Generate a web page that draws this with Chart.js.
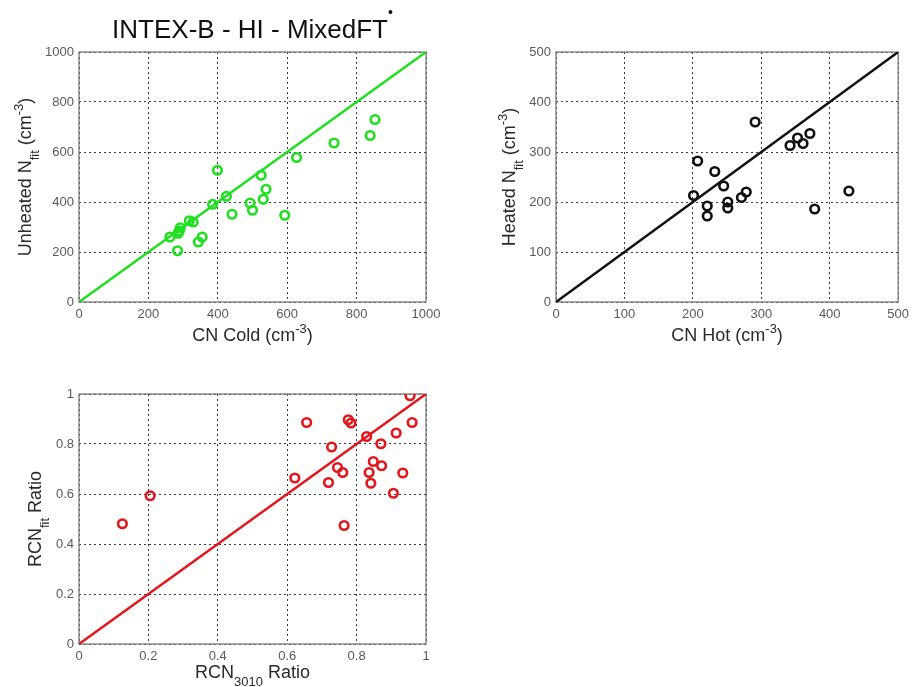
<!DOCTYPE html>
<html>
<head>
<meta charset="utf-8">
<script src="https://cdn.jsdelivr.net/npm/chart.js@4"></script>
<style>
  body { margin: 0; background: #fff; }
  .panel { position: absolute; }
</style>
</head>
<body>
<div class="panel" style="left:0;top:0;width:460px;height:350px"><canvas id="cold"></canvas></div>
<div class="panel" style="left:460px;top:0;width:454px;height:350px"><canvas id="hot"></canvas></div>
<div class="panel" style="left:0;top:370px;width:460px;height:317px"><canvas id="ratio"></canvas></div>
<script>
// unheated vs cold CN
const coldCN      = [262, 284, 286, 289, 292, 318, 329, 344, 355, 385, 399, 425, 441, 493, 500, 525, 531, 539, 593, 627, 735, 839, 853];
const unheatedFit = [260, 205, 275, 284, 297, 325, 320, 240, 260, 391, 527, 423, 351, 396, 367, 507, 411, 451, 347, 578, 636, 666, 730];

// heated vs hot CN
const hotCN     = [207, 201, 221, 221, 232, 245, 251, 251, 271, 278, 291, 342, 353, 361, 371, 378, 428];
const heatedFit = [282, 213, 192, 172, 261, 232, 200, 188, 209, 220, 360, 313, 328, 317, 337, 186, 222];

// ratios
const rcn3010 = [0.125, 0.205, 0.622, 0.656, 0.719, 0.728, 0.745, 0.760, 0.764, 0.776, 0.784, 0.829, 0.836, 0.841, 0.848, 0.870, 0.872, 0.906, 0.914, 0.933, 0.954, 0.960];
const rcnFit  = [0.481, 0.593, 0.664, 0.886, 0.646, 0.788, 0.706, 0.686, 0.474, 0.897, 0.884, 0.830, 0.686, 0.643, 0.730, 0.801, 0.713, 0.603, 0.844, 0.684, 0.993, 0.886];

const coldTicks  = [0, 200, 400, 600, 800, 1000];
const hotTicks   = [0, 100, 200, 300, 400, 500];
const ratioTicks = [0, 0.2, 0.4, 0.6, 0.8, 1];

const FONT = '"Liberation Sans", Arial, sans-serif';

// draws text runs with sub/superscripts, centred on (x, y) baseline
function drawRich(ctx, parts, x, y, size, color, rotate) {
  const runs = parts.map(p => {
    const s = p.size || (p.sub || p.sup ? size * 0.72 : size);
    ctx.font = s + 'px ' + FONT;
    const dy = p.dy !== undefined ? p.dy : (p.sub ? size * 0.42 : p.sup ? -size * 0.42 : 0);
    return { t: p.t, s, dy, w: ctx.measureText(p.t).width };
  });
  const total = runs.reduce((a, r) => a + r.w, 0);
  ctx.save();
  ctx.translate(x, y);
  if (rotate) ctx.rotate(-Math.PI / 2);
  ctx.fillStyle = color;
  ctx.textBaseline = 'alphabetic';
  ctx.textAlign = 'left';
  let cx = -total / 2;
  runs.forEach(r => {
    ctx.font = r.s + 'px ' + FONT;
    ctx.fillText(r.t, cx, r.dy);
    cx += r.w;
  });
  ctx.restore();
}

// frame box + axis titles + main title
const axisText = {
  id: 'axisText',
  beforeDatasetsDraw(chart) {
    const a = chart.chartArea;
    const ctx = chart.ctx;
    ctx.save();
    ctx.strokeStyle = '#7a7a7a';
    ctx.lineWidth = 1.3;
    ctx.strokeRect(a.left, a.top, a.right - a.left, a.bottom - a.top);
    ctx.restore();
  },
  afterDraw(chart, args, opts) {
    const a = chart.chartArea;
    const ctx = chart.ctx;
    const cx = (a.left + a.right) / 2;
    const cy = (a.top + a.bottom) / 2;
    drawRich(ctx, opts.x, cx, a.bottom + opts.xOff, 18, '#2a2a2a', false);
    drawRich(ctx, opts.y, a.left - opts.yOff, cy, 18, '#2a2a2a', true);
    if (opts.title) drawRich(ctx, opts.title, cx, a.top - 14, 26, '#111', false);
  }
};

function makeChart(id, xs, ys, max, ticks, color, pad, yWidth, xHeight, text) {
  const points = xs.map((x, i) => ({ x, y: ys[i] }));
  const tickOpts = {
    color: '#5a5a5a',
    font: { family: FONT, size: 13 },
    padding: 5,
    callback: v => +v.toFixed(1)
  };
  const grid = {
    color: '#3a3a3a',
    lineWidth: 1,
    drawTicks: false
  };
  const border = { display: false, dash: [2, 3] };
  return new Chart(document.getElementById(id), {
    type: 'scatter',
    data: {
      datasets: [
        {
          type: 'line',
          data: [{ x: 0, y: 0 }, { x: max, y: max }],
          borderColor: color,
          borderWidth: 2.5,
          pointRadius: 0,
          fill: false
        },
        {
          data: points,
          borderColor: color,
          backgroundColor: 'rgba(0,0,0,0)',
          pointRadius: 4.3,
          pointBorderWidth: 2.6,
          pointHoverRadius: 4.3
        }
      ]
    },
    options: {
      responsive: true,
      maintainAspectRatio: false,
      animation: false,
      layout: { padding: pad },
      plugins: {
        legend: { display: false },
        tooltip: { enabled: false },
        axisText: text
      },
      scales: {
        x: {
          type: 'linear',
          min: 0,
          max: max,
          afterBuildTicks: s => { s.ticks = ticks.map(v => ({ value: v })); },
          afterFit: s => { s.height = xHeight; },
          ticks: Object.assign({ maxRotation: 0 }, tickOpts),
          grid: grid,
          border: border
        },
        y: {
          type: 'linear',
          min: 0,
          max: max,
          afterBuildTicks: s => { s.ticks = ticks.map(v => ({ value: v })); },
          afterFit: s => { s.width = yWidth; },
          ticks: tickOpts,
          grid: grid,
          border: border
        }
      }
    },
    plugins: [axisText]
  });
}

const cm3 = [{ t: ' (cm' }, { t: '-3', sup: true }, { t: ')' }];

makeChart('cold', coldCN, unheatedFit, 1000, coldTicks, '#1fe01f',
  { top: 52, right: 34, bottom: 0, left: 0 }, 79, 48, {
    x: [{ t: 'CN Cold' }].concat(cm3),
    y: [{ t: 'Unheated N' }, { t: 'fit', sub: true }].concat(cm3),
    xOff: 39, yOff: 48,
    title: [{ t: 'INTEX-B - HI - MixedFT' }, { t: '\u2022', size: 14, dy: -21 }]
  });

makeChart('hot', hotCN, heatedFit, 500, hotTicks, '#111111',
  { top: 52, right: 11, bottom: 0, left: 0 }, 96, 48, {
    x: [{ t: 'CN Hot' }].concat(cm3),
    y: [{ t: 'Heated N' }, { t: 'fit', sub: true }].concat(cm3),
    xOff: 39, yOff: 41
  });

makeChart('ratio', rcn3010, rcnFit, 1, ratioTicks, '#e3161b',
  { top: 24, right: 34, bottom: 0, left: 0 }, 79, 43, {
    x: [{ t: 'RCN' }, { t: '3010', sub: true }, { t: ' Ratio' }],
    y: [{ t: 'RCN' }, { t: 'fit', sub: true }, { t: ' Ratio' }],
    xOff: 34, yOff: 38
  });
</script>
</body>
</html>
